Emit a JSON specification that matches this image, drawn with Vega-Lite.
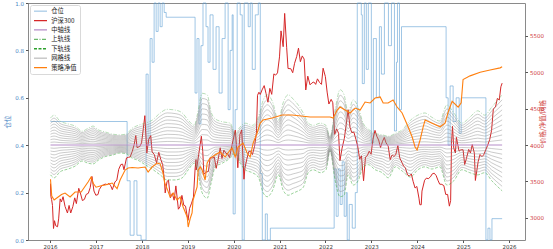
{
"$schema":"https://vega.github.io/schema/vega-lite/v6.json",
"width":497,"height":237,
"autosize":{"type":"none"},
"padding":{"left":28,"top":3,"right":28,"bottom":9},
"config":{"view":{"stroke":"#8a8a8a","strokeWidth":1},"axis":{"grid":false,"domain":false,"labelFont":"DejaVu Sans","labelFontSize":5.5,"tickSize":2.5,"tickColor":"#555","titleFont":"Noto Sans CJK SC","titleFontWeight":"normal","titleFontSize":6.5,"labelPadding":2}},
"datasets":{
"pos":[{"d":"2016-01-04","p":0.5},{"d":"2017-09-05","p":0.25},{"d":"2017-09-29","p":0.02},{"d":"2017-10-30","p":0.25},{"d":"2017-11-22","p":0.02},{"d":"2017-12-25","p":0.0},{"d":"2018-02-03","p":0.7},{"d":"2018-02-19","p":0.4},{"d":"2018-03-07","p":0.85},{"d":"2018-03-23","p":0.75},{"d":"2018-04-08","p":1.0},{"d":"2018-04-24","p":0.88},{"d":"2018-05-10","p":1.0},{"d":"2018-05-26","p":0.9},{"d":"2018-06-11","p":1.0},{"d":"2018-06-27","p":0.96},{"d":"2018-07-13","p":0.94},{"d":"2019-02-28","p":0.62},{"d":"2019-03-15","p":0.85},{"d":"2019-03-31","p":0.49},{"d":"2019-04-16","p":0.82},{"d":"2019-05-02","p":1.0},{"d":"2019-05-26","p":0.9},{"d":"2019-06-11","p":0.75},{"d":"2019-06-27","p":0.95},{"d":"2019-07-21","p":0.72},{"d":"2019-08-14","p":0.9},{"d":"2019-09-07","p":0.62},{"d":"2019-10-01","p":0.85},{"d":"2019-10-25","p":1.0},{"d":"2019-11-18","p":0.55},{"d":"2019-12-04","p":0.8},{"d":"2019-12-20","p":0.95},{"d":"2019-12-28","p":0.11},{"d":"2020-01-13","p":0.55},{"d":"2020-01-29","p":1.0},{"d":"2020-02-22","p":0.95},{"d":"2020-03-09","p":0.0},{"d":"2020-03-25","p":1.0},{"d":"2020-04-26","p":0.9},{"d":"2020-05-12","p":1.0},{"d":"2020-05-28","p":0.72},{"d":"2020-06-21","p":0.95},{"d":"2020-07-15","p":1.0},{"d":"2020-07-31","p":0.28},{"d":"2020-08-16","p":0.0},{"d":"2020-09-09","p":0.11},{"d":"2020-09-25","p":0.0},{"d":"2020-10-19","p":0.05},{"d":"2022-03-11","p":0.3},{"d":"2022-03-27","p":0.1},{"d":"2022-04-12","p":0.3},{"d":"2022-04-28","p":0.15},{"d":"2022-05-14","p":0.33},{"d":"2022-05-30","p":0.1},{"d":"2022-06-15","p":0.2},{"d":"2022-06-23","p":0.0},{"d":"2022-07-09","p":0.15},{"d":"2022-08-02","p":0.05},{"d":"2022-08-26","p":0.2},{"d":"2022-09-11","p":1.0},{"d":"2022-10-13","p":0.95},{"d":"2022-10-21","p":0.66},{"d":"2022-11-06","p":1.0},{"d":"2022-11-22","p":0.72},{"d":"2022-12-08","p":1.0},{"d":"2023-01-01","p":0.41},{"d":"2023-01-17","p":0.85},{"d":"2023-02-10","p":0.6},{"d":"2023-03-06","p":0.9},{"d":"2023-03-22","p":0.7},{"d":"2023-04-15","p":1.0},{"d":"2023-05-17","p":0.82},{"d":"2023-06-10","p":1.0},{"d":"2023-07-04","p":0.46},{"d":"2023-07-20","p":0.75},{"d":"2023-07-28","p":1.0},{"d":"2023-08-13","p":0.55},{"d":"2023-08-29","p":0.9},{"d":"2024-08-18","p":0.6},{"d":"2024-09-03","p":0.4},{"d":"2024-09-19","p":0.65},{"d":"2024-10-13","p":0.5},{"d":"2024-11-06","p":0.6},{"d":"2024-11-30","p":0.45},{"d":"2024-12-16","p":0.6},{"d":"2025-07-01","p":0.0},{"d":"2025-07-17","p":0.05},{"d":"2025-08-02","p":0.0},{"d":"2025-08-18","p":0.09},{"d":"2025-11-07","p":0.09}],
"hs":[{"d":"2016-01-04","v":3470},{"d":"2016-01-07","v":3294},{"d":"2016-01-13","v":3250},{"d":"2016-01-20","v":3170},{"d":"2016-01-28","v":2853},{"d":"2016-02-05","v":2960},{"d":"2016-02-15","v":2890},{"d":"2016-02-29","v":2877},{"d":"2016-03-09","v":2985},{"d":"2016-03-21","v":3260},{"d":"2016-03-31","v":3218},{"d":"2016-04-13","v":3290},{"d":"2016-04-29","v":3156},{"d":"2016-05-18","v":3066},{"d":"2016-05-31","v":3170},{"d":"2016-06-13","v":3066},{"d":"2016-06-30","v":3154},{"d":"2016-07-15","v":3274},{"d":"2016-07-28","v":3195},{"d":"2016-08-16","v":3405},{"d":"2016-08-31","v":3327},{"d":"2016-09-14","v":3237},{"d":"2016-09-30","v":3253},{"d":"2016-10-14","v":3321},{"d":"2016-10-31","v":3336},{"d":"2016-11-15","v":3414},{"d":"2016-11-29","v":3568},{"d":"2016-12-15","v":3368},{"d":"2016-12-30","v":3310},{"d":"2017-01-16","v":3319},{"d":"2017-01-26","v":3387},{"d":"2017-02-15","v":3442},{"d":"2017-02-28","v":3452},{"d":"2017-03-15","v":3463},{"d":"2017-03-31","v":3456},{"d":"2017-04-14","v":3473},{"d":"2017-04-28","v":3439},{"d":"2017-05-10","v":3386},{"d":"2017-05-31","v":3492},{"d":"2017-06-15","v":3518},{"d":"2017-06-30","v":3666},{"d":"2017-07-17","v":3732},{"d":"2017-07-31","v":3737},{"d":"2017-08-11","v":3660},{"d":"2017-08-31","v":3822},{"d":"2017-09-15","v":3831},{"d":"2017-09-29","v":3836},{"d":"2017-10-16","v":3912},{"d":"2017-10-31","v":4006},{"d":"2017-11-13","v":4130},{"d":"2017-11-23","v":3964},{"d":"2017-12-15","v":3980},{"d":"2017-12-29","v":4030},{"d":"2018-01-12","v":4225},{"d":"2018-01-24","v":4403},{"d":"2018-02-09","v":3891},{"d":"2018-02-23","v":4073},{"d":"2018-03-12","v":4129},{"d":"2018-03-23","v":3904},{"d":"2018-04-09","v":3870},{"d":"2018-04-27","v":3756},{"d":"2018-05-15","v":3900},{"d":"2018-05-31","v":3802},{"d":"2018-06-15","v":3729},{"d":"2018-06-29","v":3510},{"d":"2018-07-05","v":3342},{"d":"2018-07-20","v":3500},{"d":"2018-07-31","v":3517},{"d":"2018-08-16","v":3276},{"d":"2018-08-31","v":3335},{"d":"2018-09-14","v":3242},{"d":"2018-09-28","v":3438},{"d":"2018-10-18","v":3118},{"d":"2018-10-31","v":3153},{"d":"2018-11-15","v":3308},{"d":"2018-11-30","v":3173},{"d":"2018-12-14","v":3160},{"d":"2018-12-28","v":3011},{"d":"2019-01-03","v":2965},{"d":"2019-01-15","v":3129},{"d":"2019-01-31","v":3201},{"d":"2019-02-15","v":3285},{"d":"2019-02-28","v":3670},{"d":"2019-03-07","v":3800},{"d":"2019-03-08","v":3657},{"d":"2019-03-15","v":3705},{"d":"2019-03-29","v":3872},{"d":"2019-04-19","v":4120},{"d":"2019-04-30","v":3913},{"d":"2019-05-09","v":3599},{"d":"2019-05-31","v":3630},{"d":"2019-06-14","v":3636},{"d":"2019-06-28","v":3825},{"d":"2019-07-15","v":3822},{"d":"2019-07-31","v":3835},{"d":"2019-08-15","v":3680},{"d":"2019-08-30","v":3799},{"d":"2019-09-16","v":3962},{"d":"2019-09-30","v":3814},{"d":"2019-10-15","v":3930},{"d":"2019-10-31","v":3886},{"d":"2019-11-15","v":3877},{"d":"2019-11-29","v":3828},{"d":"2019-12-16","v":3975},{"d":"2019-12-31","v":4097},{"d":"2020-01-14","v":4204},{"d":"2020-01-23","v":4003},{"d":"2020-02-03","v":3688},{"d":"2020-02-20","v":4145},{"d":"2020-03-05","v":4207},{"d":"2020-03-23","v":3530},{"d":"2020-03-31","v":3686},{"d":"2020-04-15","v":3807},{"d":"2020-04-30","v":3912},{"d":"2020-05-15","v":3914},{"d":"2020-05-29","v":3868},{"d":"2020-06-15","v":3979},{"d":"2020-06-30","v":4164},{"d":"2020-07-09","v":4683},{"d":"2020-07-20","v":4725},{"d":"2020-07-31","v":4695},{"d":"2020-08-14","v":4757},{"d":"2020-08-31","v":4816},{"d":"2020-09-15","v":4706},{"d":"2020-09-30","v":4588},{"d":"2020-10-15","v":4778},{"d":"2020-10-30","v":4696},{"d":"2020-11-16","v":4977},{"d":"2020-11-30","v":4960},{"d":"2020-12-15","v":4991},{"d":"2020-12-31","v":5211},{"d":"2021-01-12","v":5568},{"d":"2021-01-29","v":5351},{"d":"2021-02-10","v":5808},{"d":"2021-02-26","v":5336},{"d":"2021-03-09","v":5051},{"d":"2021-03-31","v":5048},{"d":"2021-04-15","v":4993},{"d":"2021-04-30","v":5123},{"d":"2021-05-17","v":5217},{"d":"2021-05-31","v":5331},{"d":"2021-06-15","v":5144},{"d":"2021-06-30","v":5224},{"d":"2021-07-15","v":5181},{"d":"2021-07-28","v":4756},{"d":"2021-08-13","v":4946},{"d":"2021-08-31","v":4827},{"d":"2021-09-15","v":4853},{"d":"2021-09-30","v":4866},{"d":"2021-10-15","v":4833},{"d":"2021-10-29","v":4909},{"d":"2021-11-15","v":4859},{"d":"2021-11-30","v":4833},{"d":"2021-12-13","v":5055},{"d":"2021-12-31","v":4940},{"d":"2022-01-14","v":4727},{"d":"2022-01-28","v":4563},{"d":"2022-02-15","v":4627},{"d":"2022-02-28","v":4581},{"d":"2022-03-15","v":4146},{"d":"2022-03-31","v":4222},{"d":"2022-04-15","v":4161},{"d":"2022-04-26","v":3785},{"d":"2022-05-13","v":3958},{"d":"2022-05-31","v":4091},{"d":"2022-06-15","v":4282},{"d":"2022-06-30","v":4485},{"d":"2022-07-15","v":4244},{"d":"2022-07-29","v":4170},{"d":"2022-08-15","v":4177},{"d":"2022-08-31","v":4079},{"d":"2022-09-15","v":3977},{"d":"2022-09-30","v":3804},{"d":"2022-10-14","v":3851},{"d":"2022-10-31","v":3509},{"d":"2022-11-15","v":3834},{"d":"2022-11-30","v":3854},{"d":"2022-12-15","v":3915},{"d":"2022-12-30","v":3872},{"d":"2023-01-13","v":4074},{"d":"2023-01-30","v":4201},{"d":"2023-02-15","v":4113},{"d":"2023-02-28","v":4070},{"d":"2023-03-15","v":3966},{"d":"2023-03-31","v":4051},{"d":"2023-04-14","v":4104},{"d":"2023-04-28","v":4030},{"d":"2023-05-15","v":3985},{"d":"2023-05-31","v":3798},{"d":"2023-06-15","v":3864},{"d":"2023-06-30","v":3842},{"d":"2023-07-14","v":3866},{"d":"2023-07-31","v":3992},{"d":"2023-08-15","v":3823},{"d":"2023-08-31","v":3765},{"d":"2023-09-15","v":3708},{"d":"2023-09-28","v":3690},{"d":"2023-10-16","v":3590},{"d":"2023-10-31","v":3573},{"d":"2023-11-15","v":3602},{"d":"2023-11-30","v":3496},{"d":"2023-12-15","v":3409},{"d":"2023-12-29","v":3431},{"d":"2024-01-15","v":3270},{"d":"2024-01-22","v":3180},{"d":"2024-02-02","v":3179},{"d":"2024-02-08","v":3367},{"d":"2024-02-29","v":3516},{"d":"2024-03-15","v":3546},{"d":"2024-03-29","v":3537},{"d":"2024-04-15","v":3562},{"d":"2024-04-30","v":3604},{"d":"2024-05-15","v":3613},{"d":"2024-05-31","v":3580},{"d":"2024-06-14","v":3516},{"d":"2024-06-28","v":3462},{"d":"2024-07-15","v":3459},{"d":"2024-07-31","v":3442},{"d":"2024-08-15","v":3321},{"d":"2024-08-30","v":3321},{"d":"2024-09-13","v":3160},{"d":"2024-09-23","v":3236},{"d":"2024-09-30","v":4018},{"d":"2024-10-08","v":4256},{"d":"2024-10-18","v":3956},{"d":"2024-10-31","v":3891},{"d":"2024-11-08","v":4105},{"d":"2024-11-29","v":3916},{"d":"2024-12-13","v":3933},{"d":"2024-12-31","v":3935},{"d":"2025-01-13","v":3732},{"d":"2025-01-27","v":3817},{"d":"2025-02-14","v":3940},{"d":"2025-02-28","v":3891},{"d":"2025-03-14","v":4006},{"d":"2025-03-31","v":3888},{"d":"2025-04-08","v":3513},{"d":"2025-04-30","v":3770},{"d":"2025-05-15","v":3870},{"d":"2025-05-30","v":3840},{"d":"2025-06-13","v":3864},{"d":"2025-06-30","v":3936},{"d":"2025-07-15","v":3997},{"d":"2025-07-31","v":4075},{"d":"2025-08-15","v":4202},{"d":"2025-08-29","v":4497},{"d":"2025-09-15","v":4522},{"d":"2025-09-30","v":4640},{"d":"2025-10-15","v":4618},{"d":"2025-10-28","v":4800},{"d":"2025-11-07","v":4850}],
"nav":[{"d":"2016-01-04","v":3530},{"d":"2016-01-14","v":3300},{"d":"2016-02-02","v":3244},{"d":"2016-03-05","v":3286},{"d":"2016-04-01","v":3320},{"d":"2016-04-29","v":3340},{"d":"2016-06-08","v":3286},{"d":"2016-07-18","v":3354},{"d":"2016-09-04","v":3354},{"d":"2016-10-29","v":3492},{"d":"2016-11-22","v":3560},{"d":"2016-12-10","v":3470},{"d":"2017-01-01","v":3420},{"d":"2017-02-10","v":3440},{"d":"2017-03-14","v":3450},{"d":"2017-05-09","v":3478},{"d":"2017-06-17","v":3400},{"d":"2017-07-11","v":3519},{"d":"2017-08-20","v":3656},{"d":"2017-09-13","v":3684},{"d":"2017-10-15","v":3690},{"d":"2017-12-01","v":3684},{"d":"2018-01-26","v":3698},{"d":"2018-02-19","v":3629},{"d":"2018-03-23","v":3698},{"d":"2018-05-02","v":3753},{"d":"2018-05-26","v":3740},{"d":"2018-06-18","v":3615},{"d":"2018-07-01","v":3480},{"d":"2018-07-20","v":3400},{"d":"2018-08-13","v":3286},{"d":"2018-09-06","v":3340},{"d":"2018-10-08","v":3244},{"d":"2018-11-01","v":3286},{"d":"2018-11-25","v":3148},{"d":"2018-12-27","v":3011},{"d":"2019-01-04","v":2873},{"d":"2019-01-20","v":2990},{"d":"2019-02-04","v":3066},{"d":"2019-02-12","v":3244},{"d":"2019-03-16","v":3423},{"d":"2019-03-24","v":3650},{"d":"2019-04-10","v":3700},{"d":"2019-04-25","v":3656},{"d":"2019-05-19","v":3519},{"d":"2019-06-04","v":3753},{"d":"2019-06-28","v":3821},{"d":"2019-08-06","v":3863},{"d":"2019-09-15","v":3904},{"d":"2019-10-25","v":3835},{"d":"2019-12-04","v":3931},{"d":"2019-12-20","v":3959},{"d":"2020-01-13","v":3835},{"d":"2020-02-05","v":3973},{"d":"2020-03-16","v":4027},{"d":"2020-04-17","v":3890},{"d":"2020-05-11","v":3835},{"d":"2020-06-04","v":4027},{"d":"2020-07-06","v":4165},{"d":"2020-07-30","v":4302},{"d":"2020-08-22","v":4343},{"d":"2020-11-02","v":4371},{"d":"2021-01-21","v":4412},{"d":"2021-04-10","v":4412},{"d":"2021-09-01","v":4385},{"d":"2022-02-07","v":4385},{"d":"2022-03-03","v":4371},{"d":"2022-04-04","v":4481},{"d":"2022-04-27","v":4522},{"d":"2022-06-06","v":4481},{"d":"2022-07-16","v":4440},{"d":"2022-08-25","v":4508},{"d":"2022-10-04","v":4481},{"d":"2022-11-12","v":4590},{"d":"2022-12-22","v":4577},{"d":"2023-01-31","v":4646},{"d":"2023-03-12","v":4660},{"d":"2023-04-05","v":4577},{"d":"2023-05-14","v":4577},{"d":"2023-06-23","v":4618},{"d":"2023-07-25","v":4522},{"d":"2023-09-03","v":4440},{"d":"2023-09-27","v":4343},{"d":"2023-10-21","v":4247},{"d":"2023-11-22","v":4110},{"d":"2023-12-15","v":3973},{"d":"2023-12-31","v":3931},{"d":"2024-01-24","v":4069},{"d":"2024-02-17","v":4247},{"d":"2024-03-04","v":4343},{"d":"2024-04-29","v":4300},{"d":"2024-07-01","v":4250},{"d":"2024-08-10","v":4300},{"d":"2024-09-03","v":4450},{"d":"2024-10-05","v":4600},{"d":"2024-11-22","v":4520},{"d":"2024-12-16","v":4580},{"d":"2024-12-31","v":4900},{"d":"2025-02-25","v":4950},{"d":"2025-05-16","v":5000},{"d":"2025-08-03","v":5030},{"d":"2025-10-22","v":5060},{"d":"2025-11-07","v":5075}],
"mid":[{"d":"2016-01-04","v":4000},{"d":"2025-11-07","v":4000}],
"grid":[
{"d":"2016-01-04","u1":4037,"u2":4074,"u3":4111,"u4":4148,"u5":4185,"u6":4222,"u7":4259,"u8":4296,"u9":4333,"u10":4370,"l1":3959,"l2":3918,"l3":3877,"l4":3836,"l5":3795,"l6":3754,"l7":3713,"l8":3672,"l9":3631,"l10":3590},
{"d":"2016-02-02","u1":4041,"u2":4082,"u3":4123,"u4":4164,"u5":4205,"u6":4246,"u7":4287,"u8":4328,"u9":4369,"u10":4410,"l1":3955,"l2":3910,"l3":3865,"l4":3820,"l5":3775,"l6":3730,"l7":3685,"l8":3640,"l9":3595,"l10":3550},
{"d":"2016-03-19","u1":4033,"u2":4066,"u3":4099,"u4":4132,"u5":4165,"u6":4198,"u7":4231,"u8":4264,"u9":4297,"u10":4330,"l1":3963,"l2":3926,"l3":3889,"l4":3852,"l5":3815,"l6":3778,"l7":3741,"l8":3704,"l9":3667,"l10":3630},
{"d":"2016-05-22","u1":4029,"u2":4058,"u3":4087,"u4":4116,"u5":4145,"u6":4174,"u7":4203,"u8":4232,"u9":4261,"u10":4290,"l1":3967,"l2":3934,"l3":3901,"l4":3868,"l5":3835,"l6":3802,"l7":3769,"l8":3736,"l9":3703,"l10":3670},
{"d":"2016-07-18","u1":4026,"u2":4052,"u3":4078,"u4":4104,"u5":4130,"u6":4156,"u7":4182,"u8":4208,"u9":4234,"u10":4260,"l1":3971,"l2":3942,"l3":3913,"l4":3884,"l5":3855,"l6":3826,"l7":3797,"l8":3768,"l9":3739,"l10":3710},
{"d":"2016-09-12","u1":4019,"u2":4038,"u3":4057,"u4":4076,"u5":4095,"u6":4114,"u7":4133,"u8":4152,"u9":4171,"u10":4190,"l1":3978,"l2":3956,"l3":3934,"l4":3912,"l5":3890,"l6":3868,"l7":3846,"l8":3824,"l9":3802,"l10":3780},
{"d":"2016-10-29","u1":4023,"u2":4046,"u3":4069,"u4":4092,"u5":4115,"u6":4138,"u7":4161,"u8":4184,"u9":4207,"u10":4230,"l1":3975,"l2":3950,"l3":3925,"l4":3900,"l5":3875,"l6":3850,"l7":3825,"l8":3800,"l9":3775,"l10":3750},
{"d":"2016-12-08","u1":4026,"u2":4052,"u3":4078,"u4":4104,"u5":4130,"u6":4156,"u7":4182,"u8":4208,"u9":4234,"u10":4260,"l1":3974,"l2":3948,"l3":3922,"l4":3896,"l5":3870,"l6":3844,"l7":3818,"l8":3792,"l9":3766,"l10":3740},
{"d":"2017-01-17","u1":4021,"u2":4042,"u3":4063,"u4":4084,"u5":4105,"u6":4126,"u7":4147,"u8":4168,"u9":4189,"u10":4210,"l1":3979,"l2":3958,"l3":3937,"l4":3916,"l5":3895,"l6":3874,"l7":3853,"l8":3832,"l9":3811,"l10":3790},
{"d":"2017-03-14","u1":4018,"u2":4036,"u3":4054,"u4":4072,"u5":4090,"u6":4108,"u7":4126,"u8":4144,"u9":4162,"u10":4180,"l1":3984,"l2":3968,"l3":3952,"l4":3936,"l5":3920,"l6":3904,"l7":3888,"l8":3872,"l9":3856,"l10":3840},
{"d":"2017-05-09","u1":4015,"u2":4030,"u3":4045,"u4":4060,"u5":4075,"u6":4090,"u7":4105,"u8":4120,"u9":4135,"u10":4150,"l1":3986,"l2":3972,"l3":3958,"l4":3944,"l5":3930,"l6":3916,"l7":3902,"l8":3888,"l9":3874,"l10":3860},
{"d":"2017-07-11","u1":4014,"u2":4028,"u3":4042,"u4":4056,"u5":4070,"u6":4084,"u7":4098,"u8":4112,"u9":4126,"u10":4140,"l1":3989,"l2":3978,"l3":3967,"l4":3956,"l5":3945,"l6":3934,"l7":3923,"l8":3912,"l9":3901,"l10":3890},
{"d":"2017-08-28","u1":4015,"u2":4030,"u3":4045,"u4":4060,"u5":4075,"u6":4090,"u7":4105,"u8":4120,"u9":4135,"u10":4150,"l1":3988,"l2":3976,"l3":3964,"l4":3952,"l5":3940,"l6":3928,"l7":3916,"l8":3904,"l9":3892,"l10":3880},
{"d":"2017-10-15","u1":4023,"u2":4046,"u3":4069,"u4":4092,"u5":4115,"u6":4138,"u7":4161,"u8":4184,"u9":4207,"u10":4230,"l1":3982,"l2":3964,"l3":3946,"l4":3928,"l5":3910,"l6":3892,"l7":3874,"l8":3856,"l9":3838,"l10":3820},
{"d":"2017-12-01","u1":4027,"u2":4054,"u3":4081,"u4":4108,"u5":4135,"u6":4162,"u7":4189,"u8":4216,"u9":4243,"u10":4270,"l1":3979,"l2":3958,"l3":3937,"l4":3916,"l5":3895,"l6":3874,"l7":3853,"l8":3832,"l9":3811,"l10":3790},
{"d":"2018-01-26","u1":4030,"u2":4060,"u3":4090,"u4":4120,"u5":4150,"u6":4180,"u7":4210,"u8":4240,"u9":4270,"u10":4300,"l1":3973,"l2":3946,"l3":3919,"l4":3892,"l5":3865,"l6":3838,"l7":3811,"l8":3784,"l9":3757,"l10":3730},
{"d":"2018-03-23","u1":4034,"u2":4068,"u3":4102,"u4":4136,"u5":4170,"u6":4204,"u7":4238,"u8":4272,"u9":4306,"u10":4340,"l1":3967,"l2":3934,"l3":3901,"l4":3868,"l5":3835,"l6":3802,"l7":3769,"l8":3736,"l9":3703,"l10":3670},
{"d":"2018-05-26","u1":4044,"u2":4088,"u3":4132,"u4":4176,"u5":4220,"u6":4264,"u7":4308,"u8":4352,"u9":4396,"u10":4440,"l1":3959,"l2":3918,"l3":3877,"l4":3836,"l5":3795,"l6":3754,"l7":3713,"l8":3672,"l9":3631,"l10":3590},
{"d":"2018-07-21","u1":4049,"u2":4098,"u3":4147,"u4":4196,"u5":4245,"u6":4294,"u7":4343,"u8":4392,"u9":4441,"u10":4490,"l1":3952,"l2":3904,"l3":3856,"l4":3808,"l5":3760,"l6":3712,"l7":3664,"l8":3616,"l9":3568,"l10":3520},
{"d":"2018-09-22","u1":4048,"u2":4096,"u3":4144,"u4":4192,"u5":4240,"u6":4288,"u7":4336,"u8":4384,"u9":4432,"u10":4480,"l1":3952,"l2":3904,"l3":3856,"l4":3808,"l5":3760,"l6":3712,"l7":3664,"l8":3616,"l9":3568,"l10":3520},
{"d":"2018-11-18","u1":4044,"u2":4088,"u3":4132,"u4":4176,"u5":4220,"u6":4264,"u7":4308,"u8":4352,"u9":4396,"u10":4440,"l1":3955,"l2":3910,"l3":3865,"l4":3820,"l5":3775,"l6":3730,"l7":3685,"l8":3640,"l9":3595,"l10":3550},
{"d":"2019-01-05","u1":4034,"u2":4068,"u3":4102,"u4":4136,"u5":4170,"u6":4204,"u7":4238,"u8":4272,"u9":4306,"u10":4340,"l1":3966,"l2":3932,"l3":3898,"l4":3864,"l5":3830,"l6":3796,"l7":3762,"l8":3728,"l9":3694,"l10":3660},
{"d":"2019-02-22","u1":4027,"u2":4054,"u3":4081,"u4":4108,"u5":4135,"u6":4162,"u7":4189,"u8":4216,"u9":4243,"u10":4270,"l1":3975,"l2":3950,"l3":3925,"l4":3900,"l5":3875,"l6":3850,"l7":3825,"l8":3800,"l9":3775,"l10":3750},
{"d":"2019-03-17","u1":4041,"u2":4082,"u3":4123,"u4":4164,"u5":4205,"u6":4246,"u7":4287,"u8":4328,"u9":4369,"u10":4410,"l1":3966,"l2":3932,"l3":3898,"l4":3864,"l5":3830,"l6":3796,"l7":3762,"l8":3728,"l9":3694,"l10":3660},
{"d":"2019-04-26","u1":4071,"u2":4142,"u3":4213,"u4":4284,"u5":4355,"u6":4426,"u7":4497,"u8":4568,"u9":4639,"u10":4710,"l1":3934,"l2":3868,"l3":3802,"l4":3736,"l5":3670,"l6":3604,"l7":3538,"l8":3472,"l9":3406,"l10":3340},
{"d":"2019-06-04","u1":4069,"u2":4138,"u3":4207,"u4":4276,"u5":4345,"u6":4414,"u7":4483,"u8":4552,"u9":4621,"u10":4690,"l1":3927,"l2":3854,"l3":3781,"l4":3708,"l5":3635,"l6":3562,"l7":3489,"l8":3416,"l9":3343,"l10":3270},
{"d":"2019-07-06","u1":4045,"u2":4090,"u3":4135,"u4":4180,"u5":4225,"u6":4270,"u7":4315,"u8":4360,"u9":4405,"u10":4450,"l1":3948,"l2":3896,"l3":3844,"l4":3792,"l5":3740,"l6":3688,"l7":3636,"l8":3584,"l9":3532,"l10":3480},
{"d":"2019-08-07","u1":4036,"u2":4072,"u3":4108,"u4":4144,"u5":4180,"u6":4216,"u7":4252,"u8":4288,"u9":4324,"u10":4360,"l1":3970,"l2":3940,"l3":3910,"l4":3880,"l5":3850,"l6":3820,"l7":3790,"l8":3760,"l9":3730,"l10":3700},
{"d":"2019-10-02","u1":4032,"u2":4064,"u3":4096,"u4":4128,"u5":4160,"u6":4192,"u7":4224,"u8":4256,"u9":4288,"u10":4320,"l1":3975,"l2":3950,"l3":3925,"l4":3900,"l5":3875,"l6":3850,"l7":3825,"l8":3800,"l9":3775,"l10":3750},
{"d":"2019-12-04","u1":4030,"u2":4060,"u3":4090,"u4":4120,"u5":4150,"u6":4180,"u7":4210,"u8":4240,"u9":4270,"u10":4300,"l1":3982,"l2":3964,"l3":3946,"l4":3928,"l5":3910,"l6":3892,"l7":3874,"l8":3856,"l9":3838,"l10":3820},
{"d":"2020-01-13","u1":4016,"u2":4032,"u3":4048,"u4":4064,"u5":4080,"u6":4096,"u7":4112,"u8":4128,"u9":4144,"u10":4160,"l1":3989,"l2":3978,"l3":3967,"l4":3956,"l5":3945,"l6":3934,"l7":3923,"l8":3912,"l9":3901,"l10":3890},
{"d":"2020-02-22","u1":4025,"u2":4050,"u3":4075,"u4":4100,"u5":4125,"u6":4150,"u7":4175,"u8":4200,"u9":4225,"u10":4250,"l1":3975,"l2":3950,"l3":3925,"l4":3900,"l5":3875,"l6":3850,"l7":3825,"l8":3800,"l9":3775,"l10":3750},
{"d":"2020-04-02","u1":4030,"u2":4060,"u3":4090,"u4":4120,"u5":4150,"u6":4180,"u7":4210,"u8":4240,"u9":4270,"u10":4300,"l1":3966,"l2":3932,"l3":3898,"l4":3864,"l5":3830,"l6":3796,"l7":3762,"l8":3728,"l9":3694,"l10":3660},
{"d":"2020-05-28","u1":4027,"u2":4054,"u3":4081,"u4":4108,"u5":4135,"u6":4162,"u7":4189,"u8":4216,"u9":4243,"u10":4270,"l1":3962,"l2":3924,"l3":3886,"l4":3848,"l5":3810,"l6":3772,"l7":3734,"l8":3696,"l9":3658,"l10":3620},
{"d":"2020-07-15","u1":4038,"u2":4076,"u3":4114,"u4":4152,"u5":4190,"u6":4228,"u7":4266,"u8":4304,"u9":4342,"u10":4380,"l1":3956,"l2":3912,"l3":3868,"l4":3824,"l5":3780,"l6":3736,"l7":3692,"l8":3648,"l9":3604,"l10":3560},
{"d":"2020-08-24","u1":4062,"u2":4124,"u3":4186,"u4":4248,"u5":4310,"u6":4372,"u7":4434,"u8":4496,"u9":4558,"u10":4620,"l1":3934,"l2":3868,"l3":3802,"l4":3736,"l5":3670,"l6":3604,"l7":3538,"l8":3472,"l9":3406,"l10":3340},
{"d":"2020-09-25","u1":4069,"u2":4138,"u3":4207,"u4":4276,"u5":4345,"u6":4414,"u7":4483,"u8":4552,"u9":4621,"u10":4690,"l1":3929,"l2":3858,"l3":3787,"l4":3716,"l5":3645,"l6":3574,"l7":3503,"l8":3432,"l9":3361,"l10":3290},
{"d":"2020-11-04","u1":4060,"u2":4120,"u3":4180,"u4":4240,"u5":4300,"u6":4360,"u7":4420,"u8":4480,"u9":4540,"u10":4600,"l1":3937,"l2":3874,"l3":3811,"l4":3748,"l5":3685,"l6":3622,"l7":3559,"l8":3496,"l9":3433,"l10":3370},
{"d":"2020-12-22","u1":4034,"u2":4068,"u3":4102,"u4":4136,"u5":4170,"u6":4204,"u7":4238,"u8":4272,"u9":4306,"u10":4340,"l1":3959,"l2":3918,"l3":3877,"l4":3836,"l5":3795,"l6":3754,"l7":3713,"l8":3672,"l9":3631,"l10":3590},
{"d":"2021-01-29","u1":4058,"u2":4116,"u3":4174,"u4":4232,"u5":4290,"u6":4348,"u7":4406,"u8":4464,"u9":4522,"u10":4580,"l1":3938,"l2":3876,"l3":3814,"l4":3752,"l5":3690,"l6":3628,"l7":3566,"l8":3504,"l9":3442,"l10":3380},
{"d":"2021-03-10","u1":4069,"u2":4138,"u3":4207,"u4":4276,"u5":4345,"u6":4414,"u7":4483,"u8":4552,"u9":4621,"u10":4690,"l1":3931,"l2":3862,"l3":3793,"l4":3724,"l5":3655,"l6":3586,"l7":3517,"l8":3448,"l9":3379,"l10":3310},
{"d":"2021-04-19","u1":4063,"u2":4126,"u3":4189,"u4":4252,"u5":4315,"u6":4378,"u7":4441,"u8":4504,"u9":4567,"u10":4630,"l1":3934,"l2":3868,"l3":3802,"l4":3736,"l5":3670,"l6":3604,"l7":3538,"l8":3472,"l9":3406,"l10":3340},
{"d":"2021-05-29","u1":4055,"u2":4110,"u3":4165,"u4":4220,"u5":4275,"u6":4330,"u7":4385,"u8":4440,"u9":4495,"u10":4550,"l1":3937,"l2":3874,"l3":3811,"l4":3748,"l5":3685,"l6":3622,"l7":3559,"l8":3496,"l9":3433,"l10":3370},
{"d":"2021-07-08","u1":4044,"u2":4088,"u3":4132,"u4":4176,"u5":4220,"u6":4264,"u7":4308,"u8":4352,"u9":4396,"u10":4440,"l1":3942,"l2":3884,"l3":3826,"l4":3768,"l5":3710,"l6":3652,"l7":3594,"l8":3536,"l9":3478,"l10":3420},
{"d":"2021-08-17","u1":4030,"u2":4060,"u3":4090,"u4":4120,"u5":4150,"u6":4180,"u7":4210,"u8":4240,"u9":4270,"u10":4300,"l1":3962,"l2":3924,"l3":3886,"l4":3848,"l5":3810,"l6":3772,"l7":3734,"l8":3696,"l9":3658,"l10":3620},
{"d":"2021-09-26","u1":4027,"u2":4054,"u3":4081,"u4":4108,"u5":4135,"u6":4162,"u7":4189,"u8":4216,"u9":4243,"u10":4270,"l1":3966,"l2":3932,"l3":3898,"l4":3864,"l5":3830,"l6":3796,"l7":3762,"l8":3728,"l9":3694,"l10":3660},
{"d":"2021-11-21","u1":4030,"u2":4060,"u3":4090,"u4":4120,"u5":4150,"u6":4180,"u7":4210,"u8":4240,"u9":4270,"u10":4300,"l1":3962,"l2":3924,"l3":3886,"l4":3848,"l5":3810,"l6":3772,"l7":3734,"l8":3696,"l9":3658,"l10":3620},
{"d":"2022-01-05","u1":4027,"u2":4054,"u3":4081,"u4":4108,"u5":4135,"u6":4162,"u7":4189,"u8":4216,"u9":4243,"u10":4270,"l1":3966,"l2":3932,"l3":3898,"l4":3864,"l5":3830,"l6":3796,"l7":3762,"l8":3728,"l9":3694,"l10":3660},
{"d":"2022-02-06","u1":4011,"u2":4022,"u3":4033,"u4":4044,"u5":4055,"u6":4066,"u7":4077,"u8":4088,"u9":4099,"u10":4110,"l1":3992,"l2":3984,"l3":3976,"l4":3968,"l5":3960,"l6":3952,"l7":3944,"l8":3936,"l9":3928,"l10":3920},
{"d":"2022-03-18","u1":4048,"u2":4096,"u3":4144,"u4":4192,"u5":4240,"u6":4288,"u7":4336,"u8":4384,"u9":4432,"u10":4480,"l1":3952,"l2":3904,"l3":3856,"l4":3808,"l5":3760,"l6":3712,"l7":3664,"l8":3616,"l9":3568,"l10":3520},
{"d":"2022-04-27","u1":4076,"u2":4152,"u3":4228,"u4":4304,"u5":4380,"u6":4456,"u7":4532,"u8":4608,"u9":4684,"u10":4760,"l1":3929,"l2":3858,"l3":3787,"l4":3716,"l5":3645,"l6":3574,"l7":3503,"l8":3432,"l9":3361,"l10":3290},
{"d":"2022-05-29","u1":4069,"u2":4138,"u3":4207,"u4":4276,"u5":4345,"u6":4414,"u7":4483,"u8":4552,"u9":4621,"u10":4690,"l1":3931,"l2":3862,"l3":3793,"l4":3724,"l5":3655,"l6":3586,"l7":3517,"l8":3448,"l9":3379,"l10":3310},
{"d":"2022-06-30","u1":4045,"u2":4090,"u3":4135,"u4":4180,"u5":4225,"u6":4270,"u7":4315,"u8":4360,"u9":4405,"u10":4450,"l1":3959,"l2":3918,"l3":3877,"l4":3836,"l5":3795,"l6":3754,"l7":3713,"l8":3672,"l9":3631,"l10":3590},
{"d":"2022-08-09","u1":4062,"u2":4124,"u3":4186,"u4":4248,"u5":4310,"u6":4372,"u7":4434,"u8":4496,"u9":4558,"u10":4620,"l1":3945,"l2":3890,"l3":3835,"l4":3780,"l5":3725,"l6":3670,"l7":3615,"l8":3560,"l9":3505,"l10":3450},
{"d":"2022-09-18","u1":4052,"u2":4104,"u3":4156,"u4":4208,"u5":4260,"u6":4312,"u7":4364,"u8":4416,"u9":4468,"u10":4520,"l1":3951,"l2":3902,"l3":3853,"l4":3804,"l5":3755,"l6":3706,"l7":3657,"l8":3608,"l9":3559,"l10":3510},
{"d":"2022-10-28","u1":4030,"u2":4060,"u3":4090,"u4":4120,"u5":4150,"u6":4180,"u7":4210,"u8":4240,"u9":4270,"u10":4300,"l1":3970,"l2":3940,"l3":3910,"l4":3880,"l5":3850,"l6":3820,"l7":3790,"l8":3760,"l9":3730,"l10":3700},
{"d":"2022-12-07","u1":4022,"u2":4044,"u3":4066,"u4":4088,"u5":4110,"u6":4132,"u7":4154,"u8":4176,"u9":4198,"u10":4220,"l1":3973,"l2":3946,"l3":3919,"l4":3892,"l5":3865,"l6":3838,"l7":3811,"l8":3784,"l9":3757,"l10":3730},
{"d":"2023-02-01","u1":4016,"u2":4032,"u3":4048,"u4":4064,"u5":4080,"u6":4096,"u7":4112,"u8":4128,"u9":4144,"u10":4160,"l1":3966,"l2":3932,"l3":3898,"l4":3864,"l5":3830,"l6":3796,"l7":3762,"l8":3728,"l9":3694,"l10":3660},
{"d":"2023-03-29","u1":4014,"u2":4028,"u3":4042,"u4":4056,"u5":4070,"u6":4084,"u7":4098,"u8":4112,"u9":4126,"u10":4140,"l1":3962,"l2":3924,"l3":3886,"l4":3848,"l5":3810,"l6":3772,"l7":3734,"l8":3696,"l9":3658,"l10":3620},
{"d":"2023-05-16","u1":4012,"u2":4024,"u3":4036,"u4":4048,"u5":4060,"u6":4072,"u7":4084,"u8":4096,"u9":4108,"u10":4120,"l1":3955,"l2":3910,"l3":3865,"l4":3820,"l5":3775,"l6":3730,"l7":3685,"l8":3640,"l9":3595,"l10":3550},
{"d":"2023-07-11","u1":4016,"u2":4032,"u3":4048,"u4":4064,"u5":4080,"u6":4096,"u7":4112,"u8":4128,"u9":4144,"u10":4160,"l1":3970,"l2":3940,"l3":3910,"l4":3880,"l5":3850,"l6":3820,"l7":3790,"l8":3760,"l9":3730,"l10":3700},
{"d":"2023-09-05","u1":4021,"u2":4042,"u3":4063,"u4":4084,"u5":4105,"u6":4126,"u7":4147,"u8":4168,"u9":4189,"u10":4210,"l1":3964,"l2":3928,"l3":3892,"l4":3856,"l5":3820,"l6":3784,"l7":3748,"l8":3712,"l9":3676,"l10":3640},
{"d":"2023-11-08","u1":4034,"u2":4068,"u3":4102,"u4":4136,"u5":4170,"u6":4204,"u7":4238,"u8":4272,"u9":4306,"u10":4340,"l1":3956,"l2":3912,"l3":3868,"l4":3824,"l5":3780,"l6":3736,"l7":3692,"l8":3648,"l9":3604,"l10":3560},
{"d":"2024-01-06","u1":4041,"u2":4082,"u3":4123,"u4":4164,"u5":4205,"u6":4246,"u7":4287,"u8":4328,"u9":4369,"u10":4410,"l1":3966,"l2":3932,"l3":3898,"l4":3864,"l5":3830,"l6":3796,"l7":3762,"l8":3728,"l9":3694,"l10":3660},
{"d":"2024-03-02","u1":4044,"u2":4088,"u3":4132,"u4":4176,"u5":4220,"u6":4264,"u7":4308,"u8":4352,"u9":4396,"u10":4440,"l1":3970,"l2":3940,"l3":3910,"l4":3880,"l5":3850,"l6":3820,"l7":3790,"l8":3760,"l9":3730,"l10":3700},
{"d":"2024-04-27","u1":4038,"u2":4076,"u3":4114,"u4":4152,"u5":4190,"u6":4228,"u7":4266,"u8":4304,"u9":4342,"u10":4380,"l1":3967,"l2":3934,"l3":3901,"l4":3868,"l5":3835,"l6":3802,"l7":3769,"l8":3736,"l9":3703,"l10":3670},
{"d":"2024-06-29","u1":4033,"u2":4066,"u3":4099,"u4":4132,"u5":4165,"u6":4198,"u7":4231,"u8":4264,"u9":4297,"u10":4330,"l1":3970,"l2":3940,"l3":3910,"l4":3880,"l5":3850,"l6":3820,"l7":3790,"l8":3760,"l9":3730,"l10":3700},
{"d":"2024-08-24","u1":4055,"u2":4110,"u3":4165,"u4":4220,"u5":4275,"u6":4330,"u7":4385,"u8":4440,"u9":4495,"u10":4550,"l1":3945,"l2":3890,"l3":3835,"l4":3780,"l5":3725,"l6":3670,"l7":3615,"l8":3560,"l9":3505,"l10":3450},
{"d":"2024-10-19","u1":4044,"u2":4088,"u3":4132,"u4":4176,"u5":4220,"u6":4264,"u7":4308,"u8":4352,"u9":4396,"u10":4440,"l1":3951,"l2":3902,"l3":3853,"l4":3804,"l5":3755,"l6":3706,"l7":3657,"l8":3608,"l9":3559,"l10":3510},
{"d":"2024-12-21","u1":4030,"u2":4060,"u3":4090,"u4":4120,"u5":4150,"u6":4180,"u7":4210,"u8":4240,"u9":4270,"u10":4300,"l1":3966,"l2":3932,"l3":3898,"l4":3864,"l5":3830,"l6":3796,"l7":3762,"l8":3728,"l9":3694,"l10":3660},
{"d":"2025-02-22","u1":4038,"u2":4076,"u3":4114,"u4":4152,"u5":4190,"u6":4228,"u7":4266,"u8":4304,"u9":4342,"u10":4380,"l1":3962,"l2":3924,"l3":3886,"l4":3848,"l5":3810,"l6":3772,"l7":3734,"l8":3696,"l9":3658,"l10":3620},
{"d":"2025-04-27","u1":4047,"u2":4094,"u3":4141,"u4":4188,"u5":4235,"u6":4282,"u7":4329,"u8":4376,"u9":4423,"u10":4470,"l1":3959,"l2":3918,"l3":3877,"l4":3836,"l5":3795,"l6":3754,"l7":3713,"l8":3672,"l9":3631,"l10":3590},
{"d":"2025-06-21","u1":4041,"u2":4082,"u3":4123,"u4":4164,"u5":4205,"u6":4246,"u7":4287,"u8":4328,"u9":4369,"u10":4410,"l1":3962,"l2":3924,"l3":3886,"l4":3848,"l5":3810,"l6":3772,"l7":3734,"l8":3696,"l9":3658,"l10":3620},
{"d":"2025-08-16","u1":4052,"u2":4104,"u3":4156,"u4":4208,"u5":4260,"u6":4312,"u7":4364,"u8":4416,"u9":4468,"u10":4520,"l1":3951,"l2":3902,"l3":3853,"l4":3804,"l5":3755,"l6":3706,"l7":3657,"l8":3608,"l9":3559,"l10":3510},
{"d":"2025-11-07","u1":4069,"u2":4138,"u3":4207,"u4":4276,"u5":4345,"u6":4414,"u7":4483,"u8":4552,"u9":4621,"u10":4690,"l1":3937,"l2":3874,"l3":3811,"l4":3748,"l5":3685,"l6":3622,"l7":3559,"l8":3496,"l9":3433,"l10":3370}
]},
"encoding":{"x":{"field":"d","type":"temporal","scale":{"domain":[{"year":2015,"month":7,"date":9},{"year":2026,"month":5,"date":8}]},"axis":{"title":null,"format":"%Y","values":[{"year":2016},{"year":2017},{"year":2018},{"year":2019},{"year":2020},{"year":2021},{"year":2022},{"year":2023},{"year":2024},{"year":2025},{"year":2026}],"labelColor":"#333"}}},
"layer":[
{"data":{"name":"pos"},"mark":{"type":"line","interpolate":"step-after","strokeWidth":0.6},
 "encoding":{"y":{"field":"p","type":"quantitative","scale":{"domain":[0,1]},"axis":{"orient":"left","title":"仓位","values":[0,0.2,0.4,0.6,0.8,1],"format":".1f","labelColor":"#4a86c5","titleColor":"#4a86c5","titlePadding":4}},
 "color":{"datum":"仓位","type":"nominal","scale":{"domain":["仓位","沪深300","中轴线","上轨线","下轨线","网格线","策略净值"],"range":["#5f9fd3","#d62728","#b58cc8","#6bb86b","#2ca02c","#8a8a8a","#ff7f0e"]},
  "legend":{"orient":"none","legendX":2,"legendY":2,"title":null,"symbolType":"stroke","symbolSize":40,"symbolStrokeWidth":1.2,"labelFont":"Noto Sans CJK SC","labelFontSize":6.3,"labelColor":"#222","rowPadding":2.4,"padding":3,"strokeColor":"#d9d9d9","fillColor":"#ffffff","cornerRadius":2,"labelOffset":12,
   "encode":{"symbols":{"update":{"size":{"value":169},"x":{"value":7.5},"strokeDash":{"signal":"datum.value === '上轨线' ? [4,1.5,1,1.5] : (datum.value === '下轨线' ? [3,1.5] : [1,0])"},"strokeWidth":{"signal":"datum.value === '仓位' || datum.value === '网格线' ? 0.7 : 1.3"}}}}}}}},
{"layer":[
 {"data":{"name":"hs"},"mark":{"type":"line","strokeWidth":1},"encoding":{"color":{"datum":"沪深300","type":"nominal"}}},
 {"data":{"name":"mid"},"mark":{"type":"line","strokeWidth":1},"encoding":{"color":{"datum":"中轴线","type":"nominal"}}},
 {"data":{"name":"grid"},"transform":[{"fold":["u10"],"as":["k","v"]}],"mark":{"type":"line","strokeWidth":0.6,"strokeDash":[4,1.5,1,1.5],"interpolate":"monotone","opacity":0.8},"encoding":{"color":{"datum":"上轨线","type":"nominal"}}},
 {"data":{"name":"grid"},"transform":[{"fold":["l10"],"as":["k","v"]}],"mark":{"type":"line","strokeWidth":0.6,"strokeDash":[3,1.5],"interpolate":"monotone","opacity":0.8},"encoding":{"color":{"datum":"下轨线","type":"nominal"}}},
 {"data":{"name":"grid"},"transform":[{"fold":["u1","u2","u3","u4","u5","u6","u7","u8","u9","l1","l2","l3","l4","l5","l6","l7","l8","l9"],"as":["k","v"]}],"mark":{"type":"line","strokeWidth":0.45,"interpolate":"monotone"},"encoding":{"detail":{"field":"k","type":"nominal"},"color":{"datum":"网格线","type":"nominal"}}},
 {"data":{"name":"nav"},"mark":{"type":"line","strokeWidth":1.1},"encoding":{"color":{"datum":"策略净值","type":"nominal"}}}
 ],
 "encoding":{"y":{"field":"v","type":"quantitative","scale":{"domain":[2695,5951]},"axis":{"orient":"right","title":"价格/净值/网格","values":[3000,3500,4000,4500,5000,5500],"format":"d","labelColor":"#d04040","titleColor":"#d04040","titleAngle":270,"titlePadding":2}}}}
],
"resolve":{"scale":{"y":"independent"}}
}
